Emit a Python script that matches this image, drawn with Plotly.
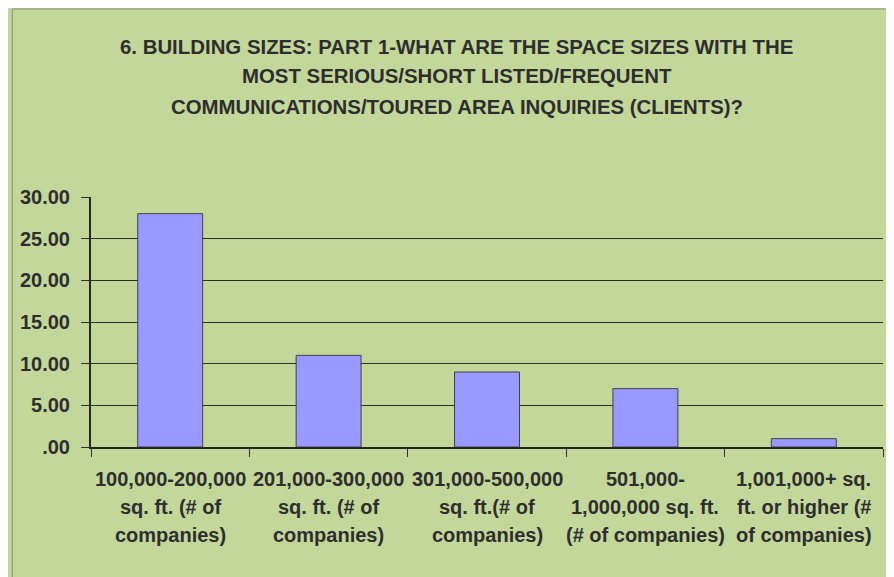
import plotly.graph_objects as go

categories = ["100,000-200,000 sq. ft. (# of companies)",
              "201,000-300,000 sq. ft. (# of companies)",
              "301,000-500,000 sq. ft.(# of companies)",
              "501,000-1,000,000 sq. ft. (# of companies)",
              "1,001,000+ sq. ft. or higher (# of companies)"]
category_label_lines = [["100,000-200,000", "sq. ft. (# of", "companies)"],
                        ["201,000-300,000", "sq. ft. (# of", "companies)"],
                        ["301,000-500,000", "sq. ft.(# of", "companies)"],
                        ["501,000-", "1,000,000 sq. ft.", "(# of companies)"],
                        ["1,001,000+ sq.", "ft. or higher (#", "of companies)"]]
values = [28.0, 11.0, 9.0, 7.0, 1.0]
y_tick_values = [0, 5, 10, 15, 20, 25, 30]
y_tick_labels = [".00", "5.00", "10.00", "15.00", "20.00", "25.00", "30.00"]
title_lines = ["6. BUILDING SIZES: PART 1-WHAT ARE THE SPACE SIZES WITH THE",
               "MOST SERIOUS/SHORT LISTED/FREQUENT",
               "COMMUNICATIONS/TOURED AREA INQUIRIES (CLIENTS)?"]

GREEN = "#C4D79B"
TXT = "#2e2e2e"
TITLE_FONT = "Liberation Sans Narrow, Arial Narrow, Liberation Sans, sans-serif"
TICK_FONT = "Liberation Sans, Arial, sans-serif"

fig = go.Figure()
fig.add_trace(go.Bar(
    x=categories, y=values,
    marker=dict(color="#9999FF", line=dict(color="#404040", width=1)),
    width=0.41,
))

annotations = []
title_y = [1.60, 1.484, 1.36]
for line, yy in zip(title_lines, title_y):
    annotations.append(dict(text="<b>%s</b>" % line, xref="paper", yref="paper",
                            x=0.4616, y=yy, xanchor="center", yanchor="middle",
                            showarrow=False,
                            font=dict(family=TITLE_FONT, size=20.4, color=TXT)))
label_y = [-0.126, -0.238, -0.352]
for cat, lines in zip(categories, category_label_lines):
    for line, yy in zip(lines, label_y):
        annotations.append(dict(text="<b>%s</b>" % line, xref="x", yref="paper",
                                x=cat, y=yy, xanchor="center", yanchor="middle",
                                showarrow=False,
                                font=dict(family=TICK_FONT, size=20, color=TXT)))

fig.update_layout(
    width=894, height=577,
    margin=dict(l=80, r=19, t=189, b=138, pad=0),
    paper_bgcolor=GREEN,
    plot_bgcolor=GREEN,
    showlegend=False,
    annotations=annotations,
    shapes=[dict(type="rect", xref="paper", yref="paper",
                 x0=-0.0994, x1=1.05, y0=-0.7, y1=1.752,
                 fillcolor="rgba(0,0,0,0)", line=dict(color="#8c8c8c", width=1),
                 layer="below")],
    bargap=0.59,
)
fig.update_xaxes(
    showticklabels=False, ticks="outside", tickson="boundaries", ticklen=8,
    tickcolor="#333333", tickwidth=1,
    showline=True, linecolor="#262626", linewidth=2, showgrid=False,
    zeroline=False,
)
fig.update_yaxes(
    range=[0, 30], tickvals=y_tick_values,
    ticktext=["<b>%s</b>" % t for t in y_tick_labels],
    ticks="outside", ticklen=8, tickcolor="#333333", tickwidth=1,
    ticklabelstandoff=7,
    showline=True, linecolor="#262626", linewidth=2,
    showgrid=True, gridcolor="#2e2e2e", gridwidth=1,
    zeroline=False,
    tickfont=dict(family=TICK_FONT, size=20, color=TXT),
)

fig.write_html("out.html")
